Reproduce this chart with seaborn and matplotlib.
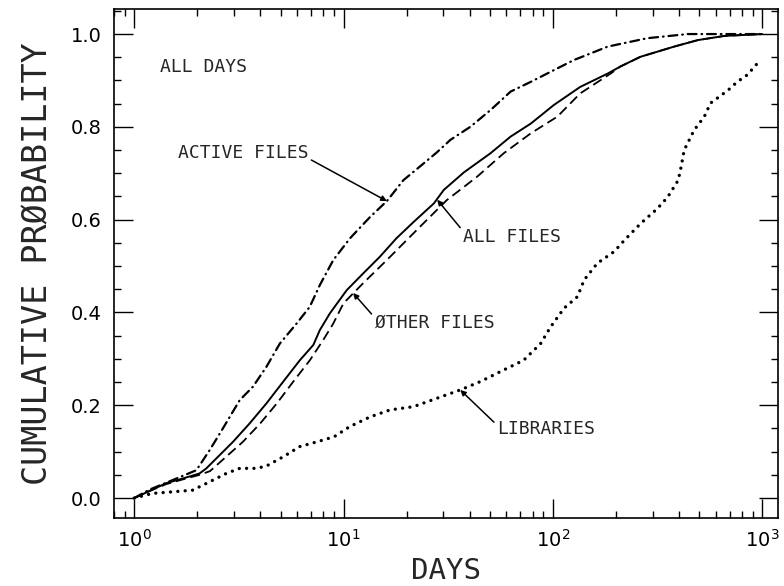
import matplotlib
matplotlib.use("Agg")
import matplotlib.pyplot as plt
from matplotlib.ticker import (LogLocator, MultipleLocator, FixedLocator,
                               FormatStrFormatter, NullFormatter)
import numpy as np
import seaborn as sns

# Cumulative probability of the interval (in days) between file references
active_days = [1, 1.18, 1.53, 1.98, 2.29, 2.65, 3.19, 3.69, 4.28, 4.96, 5.96, 6.89, 7.70,
               8.93, 10.74, 13.4, 16.1, 19.3, 24.1, 27.9, 32.4, 40.3, 50.3, 62.8, 78.4,
               105, 126, 183, 282, 440, 1000]
active_prob = [0, 0.018, 0.039, 0.060, 0.103, 0.150, 0.211, 0.240, 0.283, 0.333, 0.376,
               0.412, 0.459, 0.513, 0.560, 0.606, 0.640, 0.685, 0.721, 0.745, 0.772, 0.800,
               0.836, 0.876, 0.897, 0.926, 0.944, 0.973, 0.991, 1.0, 1.0]

all_days = [1, 1.18, 1.42, 1.70, 2.05, 2.21, 2.96, 3.56, 4.28, 5.15, 6.18, 7.17, 7.70, 8.6,
            10.35, 12.4, 14.9, 17.9, 21.6, 27.0, 30.1, 37.6, 50.3, 62.8, 78.4, 101, 135,
            183, 210, 262, 380, 493, 660, 1000]
all_prob = [0, 0.015, 0.032, 0.042, 0.053, 0.064, 0.121, 0.161, 0.204, 0.251, 0.297, 0.330,
            0.362, 0.398, 0.448, 0.484, 0.520, 0.560, 0.595, 0.635, 0.664, 0.702, 0.743,
            0.779, 0.807, 0.847, 0.886, 0.915, 0.930, 0.951, 0.973, 0.987, 0.996, 1.0]

other_days = [1, 1.18, 1.42, 1.70, 2.05, 2.3, 3.3, 4.0, 4.8, 5.75, 6.9, 8.0, 8.9, 10.0,
              12.4, 16.1, 22.4, 31.1, 43.3, 58.2, 78.4, 105, 135, 189, 210, 262, 380, 493,
              660, 1000]
other_prob = [0, 0.015, 0.030, 0.040, 0.050, 0.058, 0.121, 0.161, 0.204, 0.251, 0.297,
              0.341, 0.375, 0.420, 0.463, 0.513, 0.578, 0.642, 0.692, 0.743, 0.786, 0.822,
              0.872, 0.915, 0.930, 0.951, 0.973, 0.987, 0.996, 1.0]

library_days = [1, 1.22, 1.58, 1.9, 2.29, 2.75, 3.19, 3.83, 4.28, 5.15, 6.18, 7.44, 9.0,
                10.7, 13.4, 16.7, 21.6, 27.9, 36.1, 45, 58.2, 72.5, 87.4, 97.6, 113, 131,
                141, 163, 196, 220, 263, 316, 354, 397, 410, 424, 473, 529, 566, 687, 760,
                849, 962]
library_prob = [0, 0.010, 0.014, 0.017, 0.035, 0.053, 0.064, 0.064, 0.069, 0.089, 0.111,
                0.121, 0.132, 0.154, 0.175, 0.190, 0.197, 0.215, 0.233, 0.251, 0.276, 0.297,
                0.333, 0.369, 0.409, 0.434, 0.470, 0.506, 0.531, 0.556, 0.592, 0.624, 0.649,
                0.685, 0.714, 0.750, 0.793, 0.822, 0.851, 0.879, 0.897, 0.912, 0.940]

y_ticks = [0.0, 0.2, 0.4, 0.6, 0.8, 1.0]

sns.set_style("ticks")
plt.rcParams["font.family"] = ["DejaVu Sans"]
word_font = ["DejaVu Sans Mono", "DejaVu Sans"]

fig = plt.figure(figsize=(7.84, 5.86), dpi=100)
ax = fig.add_axes([114 / 784, 1 - 518 / 586, 664 / 784, 509 / 586])

line_kw = dict(ax=ax, color="black", estimator=None, sort=False, legend=False)
sns.lineplot(x=active_days, y=active_prob, lw=1.6,
             linestyle=(0, (4.0, 2.2, 0.3, 2.2)), dash_capstyle="round", **line_kw)
sns.lineplot(x=all_days, y=all_prob, lw=1.4, linestyle="-", **line_kw)
sns.lineplot(x=other_days, y=other_prob, lw=1.3,
             linestyle=(0, (5.5, 2.8)), **line_kw)
sns.lineplot(x=library_days, y=library_prob, lw=2.4,
             linestyle=(0, (0.01, 2.2)), dash_capstyle="round", **line_kw)

ax.set_xscale("log")
ax.set_xlim(0.80, 1190)
ax.set_ylim(-0.043, 1.054)

ax.xaxis.set_major_locator(LogLocator(base=10, numticks=10))
ax.xaxis.set_minor_locator(LogLocator(base=10, subs=np.arange(2, 10), numticks=20))
ax.xaxis.set_minor_formatter(NullFormatter())
ax.yaxis.set_major_locator(FixedLocator(y_ticks))
ax.yaxis.set_major_formatter(FormatStrFormatter("%.1f"))
ax.yaxis.set_minor_locator(MultipleLocator(0.05))

ax.tick_params(which="both", direction="in", top=True, right=True, colors="black")
ax.tick_params(which="major", length=14, width=1.0, labelsize=14)
ax.tick_params(which="minor", length=5, width=1.0)
ax.tick_params(axis="y", which="major", pad=9)
ax.tick_params(axis="x", which="major", pad=8)
for sp in ax.spines.values():
    sp.set_linewidth(1.2)
    sp.set_color("black")

ax.set_xlabel("DAYS", fontsize=21, family=word_font, labelpad=4)
ax.set_ylabel("CUMULATIVE PRØBABILITY", fontsize=24, family=word_font, labelpad=12)

ax.text(1.32, 0.929, "ALL DAYS", fontsize=13, family=word_font, ha="left", va="center")

arrow = dict(arrowstyle="-|>", color="black", lw=1.1, mutation_scale=8,
             shrinkA=0, shrinkB=0)
ax.annotate("ACTIVE FILES", xy=(16.1, 0.640), xytext=(1.61, 0.744),
            fontsize=13, family=word_font, ha="left", va="center",
            arrowprops=dict(arrow, relpos=(1.0, 0.2)))
ax.annotate("ALL FILES", xy=(28.0, 0.643), xytext=(37.4, 0.5625),
            fontsize=13, family=word_font, ha="left", va="center",
            arrowprops=dict(arrow, relpos=(0.0, 0.8)))
ax.annotate("ØTHER FILES", xy=(11.1, 0.442), xytext=(14.1, 0.377),
            fontsize=13, family=word_font, ha="left", va="center",
            arrowprops=dict(arrow, relpos=(0.0, 0.8)))
ax.annotate("LIBRARIES", xy=(36.1, 0.233), xytext=(54.2, 0.149),
            fontsize=13, family=word_font, ha="left", va="center",
            arrowprops=dict(arrow, relpos=(0.0, 0.7)))

fig.savefig("out.png", dpi=100, facecolor="white")
